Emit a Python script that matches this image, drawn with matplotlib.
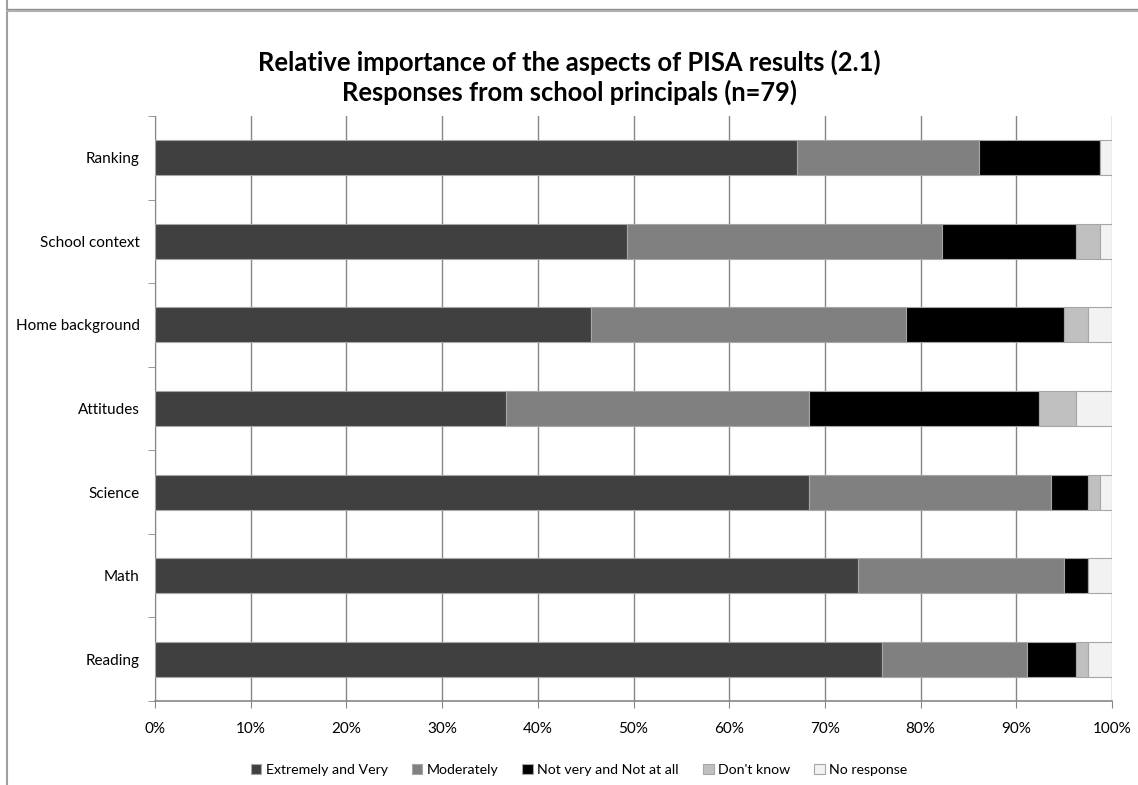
"""Stacked bar chart: relative importance of PISA result aspects (principals)."""

import numpy as np
import matplotlib.pyplot as plt
from matplotlib.lines import Line2D
from matplotlib.patches import Patch
from matplotlib.ticker import FuncFormatter, MultipleLocator, FixedLocator

# respondent counts per aspect (n = 79)
n_total = 79
aspects = ["Ranking", "School context", "Home background", "Attitudes",
           "Science", "Math", "Reading"]
extremely_very = [53, 39, 36, 29, 54, 58, 60]
moderately = [15, 26, 26, 25, 20, 17, 12]
not_very = [10, 11, 13, 19, 3, 2, 4]
dont_know = [0, 2, 2, 3, 1, 0, 1]
no_response = [1, 1, 2, 3, 1, 2, 2]

series_names = ["Extremely and Very", "Moderately", "Not very and Not at all",
                "Don't know", "No response"]
series_colors = ["#404040", "#808080", "#000000", "#c0c0c0", "#f2f2f2"]

plt.rcParams["font.family"] = ["Lato", "DejaVu Sans"]

fig = plt.figure(figsize=(11.38, 7.85), dpi=100)
ax = fig.add_axes([155 / 1138, 1 - 701 / 785, 957 / 1138, 585 / 785])

series = [extremely_very, moderately, not_very, dont_know, no_response]
y = np.arange(len(aspects))[::-1]
left = np.zeros(len(aspects))
for vals, color in zip(series, series_colors):
    pct = np.array(vals) / n_total
    ax.barh(y, pct, left=left, height=0.42, color=color,
            edgecolor="#a6a6a6", linewidth=0.8, zorder=3)
    left += pct

ax.set_xlim(0, 1)
ax.set_ylim(-0.5, len(aspects) - 0.5)
ax.xaxis.set_major_locator(MultipleLocator(0.1))
ax.xaxis.set_major_formatter(FuncFormatter(lambda v, _: f"{v * 100:.0f}%"))
ax.grid(axis="x", color="#868686", linewidth=1, zorder=0)
ax.get_xgridlines()[-1].set_color("#c8c8c8")

ax.set_yticks(y)
ax.set_yticklabels(aspects)
ax.yaxis.set_minor_locator(FixedLocator(np.arange(-0.5, len(aspects), 1)))
ax.tick_params(axis="y", which="major", length=0, pad=11, labelsize=11)
ax.tick_params(axis="y", which="minor", length=5, color="#868686")
ax.tick_params(axis="x", length=5, color="#868686", pad=10, labelsize=11)

for side in ["top", "right"]:
    ax.spines[side].set_visible(False)
ax.spines["left"].set_color("#868686")
ax.spines["bottom"].set_color("#868686")
ax.spines["bottom"].set_linewidth(1.2)

fig.text(0.5, 1 - 62 / 785, "Relative importance of the aspects of PISA results (2.1)",
         ha="center", va="center", fontsize=18.4, fontweight="bold")
fig.text(0.5, 1 - 92 / 785, "Responses from school principals (n=79)",
         ha="center", va="center", fontsize=18.4, fontweight="bold")

handles = [Patch(facecolor=c, edgecolor="#a6a6a6", linewidth=0.8)
           for c in series_colors]
fig.legend(handles, series_names, loc="center", bbox_to_anchor=(579 / 1138, 1 - 770 / 785),
           ncol=5, frameon=False, fontsize=10.2, handlelength=0.75, handleheight=0.75,
           handletextpad=0.3, columnspacing=1.7)

# outer frame lines
fig.add_artist(Line2D([7 / 1138, 7 / 1138], [0, 1 - 10 / 785], color="#a0a0a0", lw=1.5,
                      transform=fig.transFigure))
fig.add_artist(Line2D([7 / 1138, 7 / 1138], [1 - 8 / 785, 1], color="#a0a0a0", lw=1.5,
                      transform=fig.transFigure))
fig.add_artist(Line2D([7 / 1138, 1], [1 - 8.5 / 785, 1 - 8.5 / 785], color="#909090", lw=1,
                      transform=fig.transFigure))
fig.add_artist(Line2D([7 / 1138, 1], [1 - 11 / 785, 1 - 11 / 785], color="#b0b0b0", lw=1.5,
                      transform=fig.transFigure))

fig.savefig("out.png", dpi=100)
